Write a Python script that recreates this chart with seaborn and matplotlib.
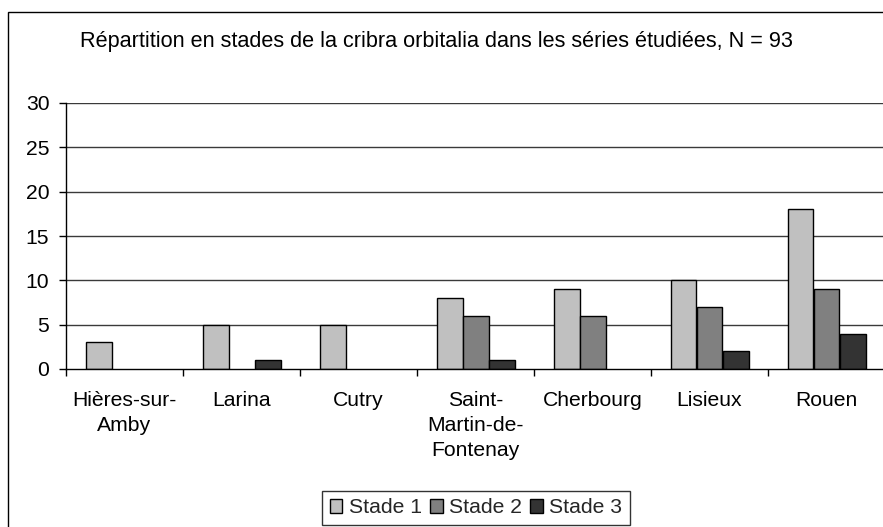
import matplotlib
matplotlib.use("Agg")
import matplotlib.pyplot as plt
import seaborn as sns
import pandas as pd
from matplotlib.patches import Rectangle

sites = ["Hières-sur-\nAmby", "Larina", "Cutry", "Saint-\nMartin-de-\nFontenay",
         "Cherbourg", "Lisieux", "Rouen"]
stades = ["Stade 1", "Stade 2", "Stade 3"]
stade_1 = [3, 5, 5, 8, 9, 10, 18]
stade_2 = [0, 0, 0, 6, 6, 7, 9]
stade_3 = [0, 1, 0, 1, 0, 2, 4]
y_ticks = [0, 5, 10, 15, 20, 25, 30]
title = "Répartition en stades de la cribra orbitalia dans les séries étudiées, N = 93"

rows = []
for stade, values in zip(stades, [stade_1, stade_2, stade_3]):
    for site, v in zip(sites, values):
        rows.append({"site": site, "stade": stade, "n": v})
df = pd.DataFrame(rows)

sns.set_theme(style="white")
plt.rcParams["font.family"] = ["Liberation Sans", "DejaVu Sans"]

FS = 15.2
W, H = 883, 527
fig = plt.figure(figsize=(W / 100, H / 100), dpi=100)
fig.patch.set_facecolor("white")

# plot area in pixel terms
x0, x1 = 66, 885
y_top, y_bot = 103, 369
ax = fig.add_axes([x0 / W, (H - y_bot) / H, (x1 - x0) / W, (y_bot - y_top) / H])

palette = ["#C0C0C0", "#808080", "#333333"]
sns.barplot(data=df, x="site", y="n", hue="stade", palette=palette, order=sites,
            hue_order=stades, width=2 / 3, gap=0, edgecolor="black", linewidth=1,
            saturation=1, ax=ax, zorder=3)

handles, labels = ax.get_legend_handles_labels()
ax.get_legend().remove()

# empty bars leave no outline
for p in ax.patches:
    if p.get_height() == 0:
        p.set_linewidth(0)

ax.set_xlim(-0.5, len(sites) - 0.5)
ax.set_ylim(0, 30)
ax.set_yticks(y_ticks)
ax.set_xlabel("")
ax.set_ylabel("")
ax.grid(False)
for t in y_ticks[1:]:
    ax.axhline(t, color="#3a3a3a", lw=1, zorder=1)

for s in ["top", "right"]:
    ax.spines[s].set_visible(False)
for s in ["left", "bottom"]:
    ax.spines[s].set_color("black")
    ax.spines[s].set_linewidth(1)
    ax.spines[s].set_zorder(4)

ax.tick_params(axis="y", which="major", left=True, length=5, width=1, color="black",
               labelsize=FS, pad=7, labelcolor="black")
ax.set_xticks(range(len(sites)))
ax.set_xticklabels(sites, fontsize=FS, color="black", linespacing=1.4, va="top")
ax.tick_params(axis="x", which="major", bottom=False, length=0, pad=16)
ax.set_xticks([i - 0.5 for i in range(len(sites) + 1)], minor=True)
ax.tick_params(axis="x", which="minor", bottom=True, length=5, width=1, color="black")

leg = fig.legend(handles, labels, loc="upper center",
                 bbox_to_anchor=(476 / W, 1 - 491 / H), ncol=3, fontsize=FS,
                 frameon=True, fancybox=False, edgecolor="black",
                 handlelength=0.6, handleheight=0.6, handletextpad=0.3,
                 columnspacing=0.4, borderpad=0.35, borderaxespad=0)
leg.get_frame().set_linewidth(1)
for h, c in zip(leg.legend_handles, palette):
    h.set_facecolor(c)
    h.set_edgecolor("black")
    h.set_linewidth(1)

fig.text(437 / W, 1 - 41 / H, title, ha="center", va="center", fontsize=15.6,
         color="black")

# chart border
fig.patches.append(Rectangle((8 / W, -0.1), 1.2, 1 - 12 / H + 0.1,
                             transform=fig.transFigure, fill=False,
                             edgecolor="black", lw=1, zorder=10))

fig.savefig("out.png", dpi=100, facecolor="white")
